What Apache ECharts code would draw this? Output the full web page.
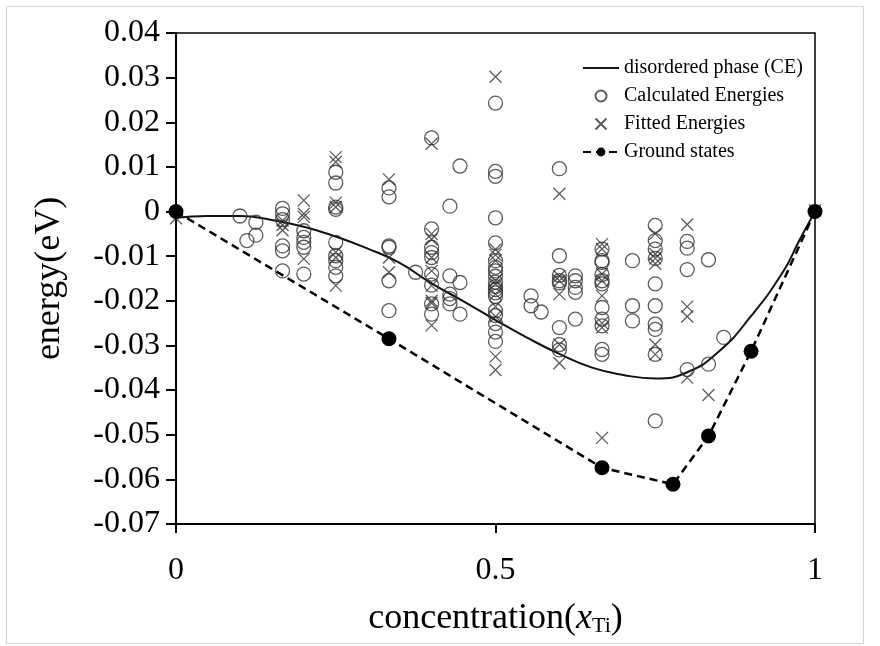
<!DOCTYPE html>
<html>
<head>
<meta charset="utf-8">
<script src="https://cdn.jsdelivr.net/npm/echarts@6/dist/echarts.min.js"></script>
<style>html,body{margin:0;padding:0;background:#fff}#c{width:880px;height:646px}</style>
</head>
<body>
<div id="c"></div>
<script>
// ---- data ----
const xTicks = [0, 0.5, 1];
const yTicks = [0.04, 0.03, 0.02, 0.01, 0, -0.01, -0.02, -0.03, -0.04, -0.05, -0.06, -0.07];

// disordered phase (CE) curve
const ceConc   = [0, 0.05, 0.1, 0.15, 0.2, 0.25, 0.3, 0.35, 0.4, 0.45, 0.5, 0.55, 0.6, 0.65, 0.7, 0.75, 0.8, 0.85, 0.9, 0.95, 0.975, 1];
const ceEnergy = [-0.0014, -0.0010, -0.0010, -0.0019, -0.0034, -0.0056, -0.0083, -0.0115, -0.0161, -0.0201, -0.0243, -0.0283, -0.0319, -0.0349, -0.0366, -0.0374, -0.0360, -0.0313, -0.0234, -0.0135, -0.0066, 0];

// Calculated energies (circles)
const calcConc = [
  0.1, 0.111, 0.125, 0.125,
  0.1667, 0.1667, 0.1667, 0.1667, 0.1667, 0.1667,
  0.2, 0.2, 0.2, 0.2, 0.2,
  0.25, 0.25, 0.25, 0.25, 0.25, 0.25, 0.25, 0.25, 0.25,
  0.3333, 0.3333, 0.3333, 0.3333, 0.3333, 0.3333,
  0.375,
  0.4, 0.4, 0.4, 0.4, 0.4, 0.4, 0.4, 0.4, 0.4,
  0.4286, 0.4286, 0.4286, 0.4286, 0.4286,
  0.4444, 0.4444, 0.4444,
  0.5, 0.5, 0.5, 0.5, 0.5, 0.5, 0.5, 0.5, 0.5, 0.5, 0.5, 0.5, 0.5, 0.5, 0.5, 0.5, 0.5, 0.5, 0.5,
  0.5556, 0.5556, 0.5714,
  0.6, 0.6, 0.6, 0.6, 0.6, 0.6, 0.6, 0.6,
  0.625, 0.625, 0.625, 0.625, 0.625,
  0.6667, 0.6667, 0.6667, 0.6667, 0.6667, 0.6667, 0.6667, 0.6667, 0.6667, 0.6667, 0.6667,
  0.7143, 0.7143, 0.7143,
  0.75, 0.75, 0.75, 0.75, 0.75, 0.75, 0.75, 0.75, 0.75, 0.75,
  0.8, 0.8, 0.8, 0.8,
  0.8333, 0.8333, 0.8571
];
const calcEnergy = [
  -0.0010, -0.0065, -0.0024, -0.0053,
  0.0007, -0.0005, -0.0018, -0.0077, -0.0088, -0.0133,
  -0.0043, -0.0058, -0.0069, -0.0080, -0.0140,
  0.0088, 0.0064, 0.0010, 0.0005, -0.0069, -0.0099, -0.0110, -0.0125, -0.0144,
  0.0053, 0.0033, -0.0077, -0.0080, -0.0155, -0.0222,
  -0.0136,
  0.0165, -0.0039, -0.0080, -0.0092, -0.0103, -0.0140, -0.0165, -0.0207, -0.0230,
  0.0012, -0.0144, -0.0185, -0.0195, -0.0207,
  0.0102, -0.0159, -0.0230,
  0.0243, 0.0090, 0.0079, -0.0014, -0.0070, -0.0110, -0.0125, -0.0133, -0.0145, -0.0158, -0.0168, -0.0175, -0.0182, -0.0190, -0.0222, -0.0233, -0.0251, -0.0270, -0.0291,
  -0.0189, -0.0211, -0.0225,
  0.0096, -0.0099, -0.0143, -0.0155, -0.0160, -0.0260, -0.0298, -0.0310,
  -0.0144, -0.0155, -0.0170, -0.0181, -0.0241,
  -0.0084, -0.0110, -0.0114, -0.0141, -0.0155, -0.0162, -0.0215, -0.0241, -0.0256, -0.0309, -0.0320,
  -0.0110, -0.0211, -0.0245,
  -0.0031, -0.0065, -0.0084, -0.0105, -0.0162, -0.0211, -0.0252, -0.0264, -0.0320, -0.0469,
  -0.0067, -0.0082, -0.0130, -0.0354,
  -0.0108, -0.0342, -0.0282
];

// Fitted energies (crosses)
const fitConc = [
  0,
  0.1667, 0.1667, 0.1667,
  0.2, 0.2, 0.2, 0.2,
  0.25, 0.25, 0.25, 0.25, 0.25, 0.25, 0.25,
  0.3333, 0.3333, 0.3333,
  0.4, 0.4, 0.4, 0.4, 0.4, 0.4, 0.4, 0.4, 0.4,
  0.5, 0.5, 0.5, 0.5, 0.5, 0.5, 0.5, 0.5, 0.5, 0.5, 0.5,
  0.6, 0.6, 0.6, 0.6, 0.6, 0.6,
  0.6667, 0.6667, 0.6667, 0.6667, 0.6667, 0.6667, 0.6667, 0.6667,
  0.75, 0.75, 0.75, 0.75, 0.75, 0.75,
  0.8, 0.8, 0.8, 0.8,
  0.8333,
  1
];
const fitEnergy = [
  -0.0015,
  -0.0020, -0.0030, -0.0042,
  0.0025, -0.0005, -0.0012, -0.0106,
  0.0122, 0.0111, 0.0020, 0.0010, -0.0091, -0.0103, -0.0166,
  0.0072, -0.0103, -0.0136,
  0.0152, -0.0050, -0.0062, -0.0103, -0.0133, -0.0166, -0.0200, -0.0205, -0.0255,
  0.0302, -0.0085, -0.0097, -0.0110, -0.0155, -0.0162, -0.0185, -0.0213, -0.0235, -0.0325, -0.0355,
  0.0040, -0.0145, -0.0155, -0.0185, -0.0298, -0.0340,
  -0.0073, -0.0084, -0.0140, -0.0155, -0.0189, -0.0250, -0.0260, -0.0507,
  -0.0050, -0.0095, -0.0105, -0.0117, -0.0298, -0.0320,
  -0.0029, -0.0213, -0.0235, -0.0372,
  -0.0411,
  0.0003
];

// Ground states
const gsConc   = [0, 0.3333, 0.6667, 0.7778, 0.8333, 0.9, 1];
const gsEnergy = [0, -0.0285, -0.0574, -0.0611, -0.0503, -0.0313, 0];

const seriesNames = ['disordered phase (CE)', 'Calculated Energies', 'Fitted Energies', 'Ground states'];
const yTitle = 'energy(eV)';

// ---- chart ----
const zip = (a, b) => a.map((v, i) => [v, b[i]]);
const FONT = '"Liberation Serif", "Times New Roman", serif';
const crossPath = 'path://M0,0L10,10M10,0L0,10';
const markColor = '#333333';

const chart = echarts.init(document.getElementById('c'), null, {renderer: 'canvas'});
chart.setOption({
  animation: false,
  backgroundColor: '#ffffff',
  textStyle: {fontFamily: FONT, color: '#000'},
  graphic: [{
    type: 'rect', left: 4, top: 4, silent: true, z: -10,
    shape: {width: 857, height: 637},
    style: {fill: 'none', stroke: '#d4d4d4', lineWidth: 1}
  }],
  grid: {left: 176, right: 65, top: 33, bottom: 122, show: true, borderColor: '#000', borderWidth: 1.5, backgroundColor: 'transparent'},
  legend: {
    orient: 'vertical', left: 577, top: 53,
    itemWidth: 36, itemHeight: 11, itemGap: 8,
    textStyle: {fontFamily: FONT, fontSize: 20, color: '#000'},
    data: [
      {name: seriesNames[0], itemStyle: {color: 'rgba(0,0,0,0)', borderWidth: 0}},
      {name: seriesNames[1]},
      {name: seriesNames[2]},
      {name: seriesNames[3]}
    ]
  },
  xAxis: {
    type: 'value', min: 0, max: 1, interval: 0.5,
    axisLine: {onZero: false, lineStyle: {color: '#000', width: 2}},
    axisTick: {show: true, inside: false, length: 9, lineStyle: {color: '#000', width: 2}},
    splitLine: {show: false},
    axisLabel: {
      fontFamily: FONT, fontSize: 32, color: '#000', margin: 31,
      formatter: v => { const t = xTicks.find(k => Math.abs(k - v) < 1e-9); return t === undefined ? '' : String(t); }
    },
    name: '{a|concentration(}{i|x}{s|Ti}{a|)}',
    nameLocation: 'middle', nameGap: 77,
    nameTextStyle: {
      fontFamily: FONT, fontSize: 36, color: '#000',
      rich: {
        a: {fontFamily: FONT, fontSize: 36, color: '#000'},
        i: {fontFamily: FONT, fontSize: 36, fontStyle: 'italic', color: '#000'},
        s: {fontFamily: FONT, fontSize: 22, color: '#000', verticalAlign: 'bottom', padding: [14, 0, 0, 0]}
      }
    }
  },
  yAxis: {
    type: 'value', min: -0.07, max: 0.04, interval: 0.01,
    axisLine: {onZero: false, lineStyle: {color: '#000', width: 2}},
    axisTick: {show: true, inside: false, length: 10, lineStyle: {color: '#000', width: 2}},
    splitLine: {show: false},
    axisLabel: {
      fontFamily: FONT, fontSize: 32, color: '#000', margin: 16,
      formatter: v => { const t = yTicks.find(k => Math.abs(k - v) < 1e-9); return t === undefined ? '' : (t === 0 ? '0' : t.toFixed(2)); }
    },
    name: yTitle, nameLocation: 'middle', nameGap: 108,
    nameTextStyle: {fontFamily: FONT, fontSize: 36, color: '#000'}
  },
  series: [
    {
      name: seriesNames[0], type: 'line', data: zip(ceConc, ceEnergy),
      smooth: 0.5, showSymbol: false, symbol: 'none',
      lineStyle: {color: '#111', width: 2}, itemStyle: {color: '#111'}, z: 3
    },
    {
      name: seriesNames[1], type: 'scatter', data: zip(calcConc, calcEnergy),
      symbol: 'circle', symbolSize: 14,
      itemStyle: {color: 'rgba(0,0,0,0)', borderColor: markColor, borderWidth: 1.3}, z: 4
    },
    {
      name: seriesNames[2], type: 'scatter', data: zip(fitConc, fitEnergy),
      symbol: crossPath, symbolSize: 12,
      itemStyle: {color: 'rgba(0,0,0,0)', borderColor: markColor, borderWidth: 1.3}, z: 4
    },
    {
      name: seriesNames[3], type: 'line', data: zip(gsConc, gsEnergy),
      symbol: 'circle', symbolSize: 15, showSymbol: true,
      lineStyle: {color: '#000', width: 2.5, type: [8, 5]},
      itemStyle: {color: '#000'}, z: 5
    }
  ]
});
</script>
</body>
</html>
